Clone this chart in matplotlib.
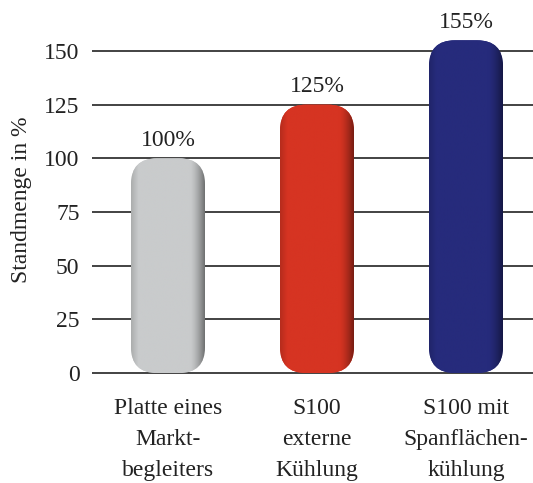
import matplotlib
matplotlib.use("Agg")
import matplotlib.pyplot as plt
import matplotlib.colors as mcolors
import numpy as np
from matplotlib.patches import FancyBboxPatch

categories = ["Platte eines\nMarkt-\nbegleiters", "S100\nexterne\nKühlung", "S100 mit\nSpanflächen-\nkühlung"]
values = [100, 125, 155]
value_labels = ["100%", "125%", "155%"]
yticks = [0, 25, 50, 75, 100, 125, 150]
colors = ["#c9cbcc", "#d63422", "#262b7c"]

plt.rcParams['font.family'] = ['Liberation Serif', 'DejaVu Serif']
FS = 17

W, H = 533, 483
fig = plt.figure(figsize=(W/100, H/100), dpi=100)
ax_left, ax_right = 92, 533
ax_top, ax_bot = 0, 380
ax = fig.add_axes([ax_left/W, 1-ax_bot/H, (ax_right-ax_left)/W, (ax_bot-ax_top)/H])

px_per_unit_y = (373-51)/150.0
px_per_unit_x = 149.0

for s in ax.spines.values():
    s.set_visible(False)
ax.set_yticks(yticks)
ax.set_yticklabels([str(t) for t in yticks], fontsize=FS, color="#222222")
ax.tick_params(axis='y', length=0, pad=9)
ax.set_xticks([])
for t in yticks:
    ax.axhline(t, color="#222222", lw=1.2, zorder=1)

bw = 74/px_per_unit_x
aspect = px_per_unit_x/px_per_unit_y
r = 26/px_per_unit_x
for i, (v, c) in enumerate(zip(values, colors)):
    x0 = i - bw/2
    patch = FancyBboxPatch((x0, 0), bw, v, boxstyle=f"round,pad=0,rounding_size={r}",
                           mutation_aspect=aspect, facecolor=c, edgecolor="none", zorder=3)
    ax.add_patch(patch)
    xs = np.linspace(0, 1, 200)
    shade = 1 - 0.45*np.clip((xs-0.8)/0.2, 0, 1)**1.5 - 0.15*np.clip((0.1-xs)/0.1, 0, 1)
    base = np.array(mcolors.to_rgb(c))
    img = np.clip(base[None, :] * shade[:, None], 0, 1)[None, :, :]
    im = ax.imshow(img, extent=(x0, x0+bw, 0, v), aspect='auto', zorder=4, interpolation='bilinear')
    im.set_clip_path(patch)
    ax.text(i, v + 3.5, value_labels[i], ha='center', va='bottom', fontsize=FS, color="#222222", zorder=5)
    ax.text(i, -11.5, categories[i], ha='center', va='top', fontsize=FS, color="#222222",
            linespacing=1.65, clip_on=False)

ax.set_ylim(-(ax_bot-373)/px_per_unit_y, 373/px_per_unit_y)
ax.set_xlim((ax_left-168)/px_per_unit_x, (ax_right-168)/px_per_unit_x)
fig.text(22/W, 1-200/H, "Standmenge in %", rotation=90, ha='center', va='center', fontsize=FS, color="#222222")

fig.savefig("out.png", dpi=100)
